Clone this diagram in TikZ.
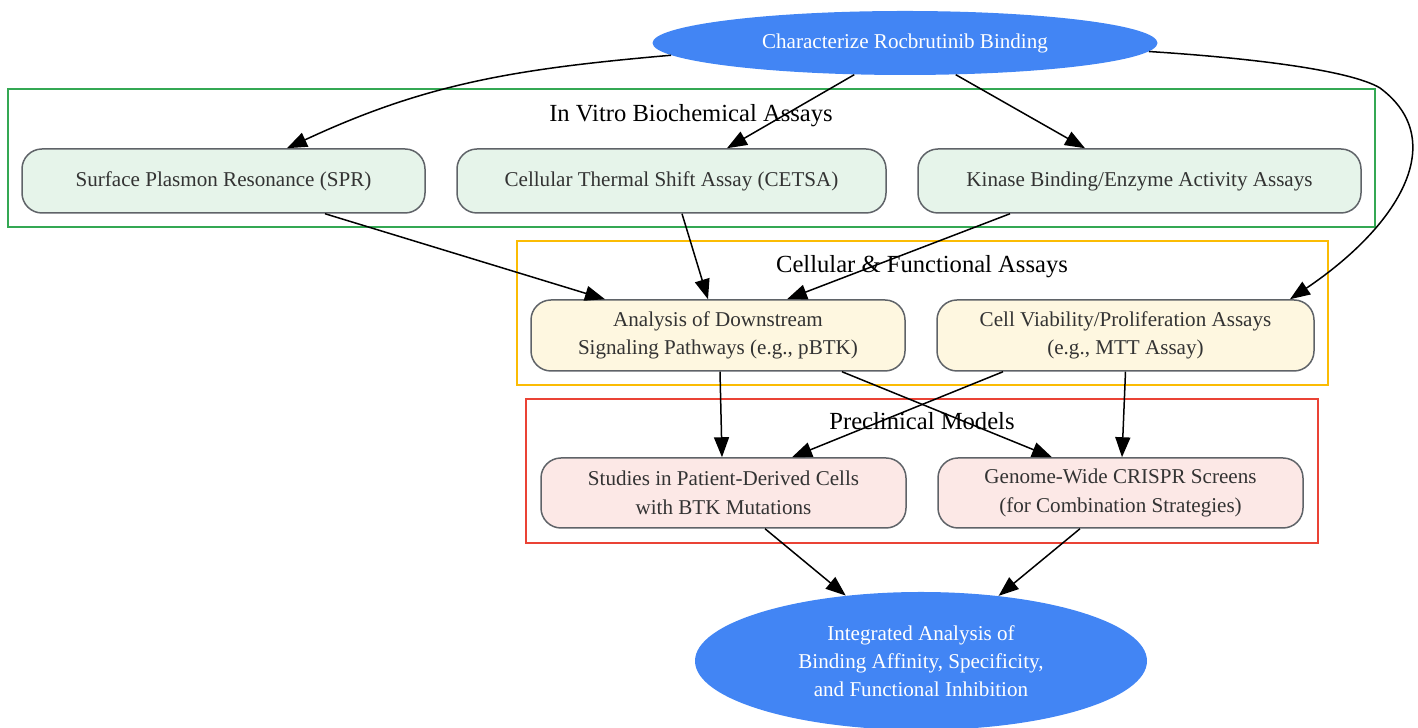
\documentclass[tikz,border=0pt]{standalone}
\usepackage{fontspec}
\setmainfont{Liberation Serif}
\usetikzlibrary{arrows.meta,shapes.geometric}

\definecolor{gblue}{HTML}{4285F4}
\definecolor{ggreen}{HTML}{34A853}
\definecolor{gyellow}{HTML}{FBBC04}
\definecolor{gred}{HTML}{EA4335}
\definecolor{fillgreen}{HTML}{E6F4EA}
\definecolor{fillyellow}{HTML}{FEF7E0}
\definecolor{fillred}{HTML}{FCE8E6}
\definecolor{boxline}{HTML}{5F6368}
\definecolor{boxtext}{HTML}{333333}

\tikzset{
	goal/.style={ellipse,fill=gblue,text=white,align=center,inner sep=0pt,
		font=\fontsize{12}{15.9}\selectfont},
	assay/.style={rounded corners=0.4cm,draw=boxline,line width=0.3mm,text=boxtext,
		align=center,inner sep=0pt,font=\fontsize{12}{16.3}\selectfont},
	cluster/.style={line width=0.3mm},
	clustertitle/.style={font=\fontsize{14}{17}\selectfont},
	arr/.style={line width=0.3mm,-{Triangle[length=0.4cm,width=0.3cm]}}
}

\begin{document}
\begin{tikzpicture}

	\useasboundingbox (0,0) rectangle (28.36,14.56);

	% clusters
	\draw[cluster,ggreen] (0.16,10.02) rectangle (27.50,12.78);
	\node[clustertitle] (vitro) at (13.82,12.24) {In Vitro Biochemical Assays};

	\draw[cluster,gyellow] (10.34,6.86) rectangle (26.56,9.74);
	\node[clustertitle] (cellular) at (18.44,9.22) {Cellular \& Functional Assays};

	\draw[cluster,gred] (10.52,3.70) rectangle (26.36,6.58);
	\node[clustertitle] (preclin) at (18.44,6.13) {Preclinical Models};

	% start and end
	\node[goal,minimum width=10.1cm,minimum height=1.28cm] (top) at (18.10,13.70) {Characterize Rocbrutinib Binding};
	\node[goal,minimum width=9.04cm,minimum height=2.76cm] (bot) at (18.42,1.34) {Integrated Analysis of\\Binding Affinity, Specificity,\\and Functional Inhibition};

	% in vitro
	\node[assay,fill=fillgreen,minimum width=8.06cm,minimum height=1.28cm] (spr) at (4.47,10.94) {Surface Plasmon Resonance (SPR)};
	\node[assay,fill=fillgreen,minimum width=8.58cm,minimum height=1.28cm] (cetsa) at (13.43,10.94) {Cellular Thermal Shift Assay (CETSA)};
	\node[assay,fill=fillgreen,minimum width=8.86cm,minimum height=1.28cm] (kin) at (22.79,10.94) {Kinase Binding/Enzyme Activity Assays};

	% cellular
	\node[assay,fill=fillyellow,minimum width=7.48cm,minimum height=1.42cm] (an) at (14.36,7.85) {Analysis of Downstream\\Signaling Pathways (e.g., pBTK)};
	\node[assay,fill=fillyellow,minimum width=7.54cm,minimum height=1.42cm] (cv) at (22.51,7.85) {Cell Viability/Proliferation Assays\\(e.g., MTT Assay)};

	% preclinical
	\node[assay,fill=fillred,minimum width=7.30cm,minimum height=1.40cm] (pt) at (14.47,4.70) {Studies in Patient-Derived Cells\\with BTK Mutations};
	\node[assay,fill=fillred,minimum width=7.30cm,minimum height=1.40cm] (cr) at (22.41,4.70) {Genome-Wide CRISPR Screens\\(for Combination Strategies)};

	% edges
	\draw[arr] (top.183) to[out=185,in=25] ([xshift=1.27cm]spr.north);
	\draw[arr] (top.212) -- ([xshift=1.11cm]cetsa.north);
	\draw[arr] (top.328) -- ([xshift=-1.09cm]kin.north);
	\draw[arr] (top.358) .. controls (25.0,13.40) and (27.0,13.16) .. (27.6,12.80)
		.. controls (29.0,11.76) and (28.0,10.06) .. ([xshift=3.29cm]cv.north);

	\draw[arr] ([xshift=2.03cm]spr.south) -- ([xshift=-2.26cm]an.north);
	\draw[arr] ([xshift=0.21cm]cetsa.south) -- ([xshift=-0.2cm]an.north);
	\draw[arr] ([xshift=-2.59cm]kin.south) -- ([xshift=1.38cm]an.north);

	\draw[arr] ([xshift=0.04cm]an.south) -- ([xshift=-0.03cm]pt.north);
	\draw[arr] ([xshift=2.48cm]an.south) -- ([xshift=-1.37cm]cr.north);
	\draw[arr] ([xshift=-2.45cm]cv.south) -- ([xshift=1.37cm]pt.north);
	\draw[arr] (cv.south) -- ([xshift=0.03cm]cr.north);

	\draw[arr] ([xshift=0.83cm]pt.south) -- (bot.139);
	\draw[arr] ([xshift=-0.81cm]cr.south) -- (bot.40);

\end{tikzpicture}
\end{document}
